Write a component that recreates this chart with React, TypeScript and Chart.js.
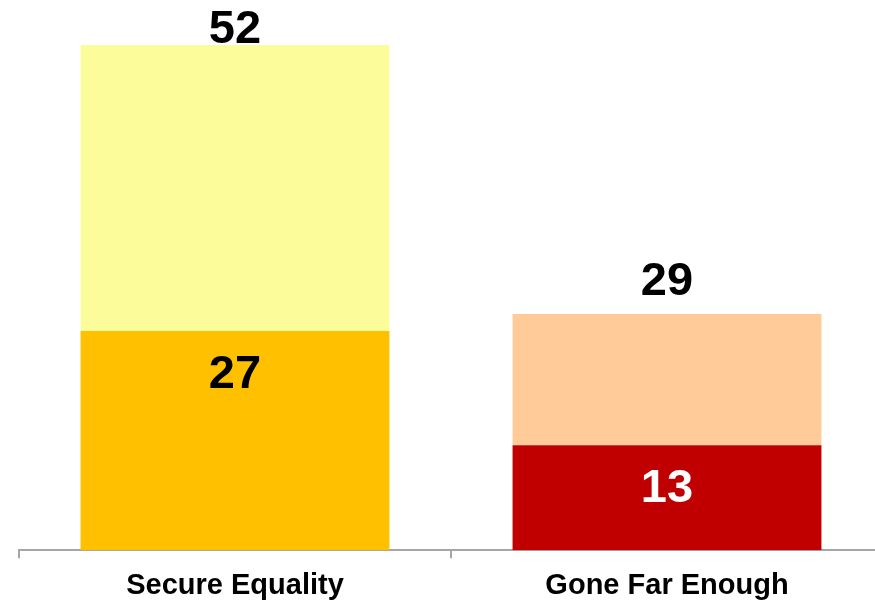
import React, { useEffect, useRef } from "react";
import { Chart, registerables } from "chart.js";

Chart.register(...registerables);

// Categories
const categories: string[] = ["Secure Equality", "Gone Far Enough"];
// Bar segment heights (same scale for both bars)
const bottomHeights: number[] = [22.55, 10.8];
const topHeights: number[] = [29.45, 13.5];
// Printed labels
const bottomLabels: string[] = ["27", "13"];
const totalLabels: string[] = ["52", "29"];

const bottomColors = ["#FFC000", "#C00000"];
const topColors = ["#FCFC9B", "#FFCC99"];
const bottomLabelColors = ["#000000", "#FFFFFF"];
const totalLabelGap = [2, 19];

const labelPlugin = {
  id: "barLabels",
  afterDatasetsDraw(chart: any) {
    const ctx = chart.ctx;
    const m0 = chart.getDatasetMeta(0);
    const m1 = chart.getDatasetMeta(1);
    ctx.save();
    ctx.font = "bold 47px 'Liberation Sans', Arial, sans-serif";
    ctx.textAlign = "center";
    ctx.textBaseline = "alphabetic";
    m0.data.forEach((bar: any, i: number) => {
      ctx.fillStyle = bottomLabelColors[i];
      ctx.fillText(bottomLabels[i], bar.x, bar.y + 57);
    });
    m1.data.forEach((bar: any, i: number) => {
      ctx.fillStyle = "#000000";
      ctx.fillText(totalLabels[i], bar.x, bar.y - totalLabelGap[i]);
    });
    ctx.restore();
  },
};

export default function App() {
  const ref = useRef<HTMLCanvasElement | null>(null);
  useEffect(() => {
    if (!ref.current) return;
    const chart = new Chart(ref.current, {
      type: "bar",
      data: {
        labels: categories,
        datasets: [
          {
            data: bottomHeights,
            backgroundColor: bottomColors,
            borderWidth: 0,
            categoryPercentage: 1,
            barPercentage: 0.715,
          },
          {
            data: topHeights,
            backgroundColor: topColors,
            borderWidth: 0,
            categoryPercentage: 1,
            barPercentage: 0.715,
          },
        ],
      },
      options: {
        responsive: false,
        animation: false,
        layout: { padding: { left: 19, right: 17, top: 0, bottom: 0 } },
        plugins: {
          legend: { display: false },
          tooltip: { enabled: false },
        },
        scales: {
          x: {
            stacked: true,
            offset: true,
            grid: {
              offset: true,
              drawOnChartArea: false,
              drawTicks: true,
              tickLength: 8,
              color: "#A6A6A6",
              lineWidth: 2,
            },
            border: { display: true, color: "#A6A6A6", width: 2 },
            ticks: {
              color: "#000000",
              padding: 10,
              font: { family: "'Liberation Sans', Arial, sans-serif", size: 29, weight: "bold" },
            },
          },
          y: {
            stacked: true,
            display: false,
            min: 0,
            max: 56.63,
          },
        },
      },
      plugins: [labelPlugin],
    });
    return () => chart.destroy();
  }, []);
  return (
    <div style={{ position: "fixed", left: 0, top: 0, width: 900, height: 601, overflow: "hidden", background: "#fff" }}>
      <canvas ref={ref} width={900} height={613} />
    </div>
  );
}
